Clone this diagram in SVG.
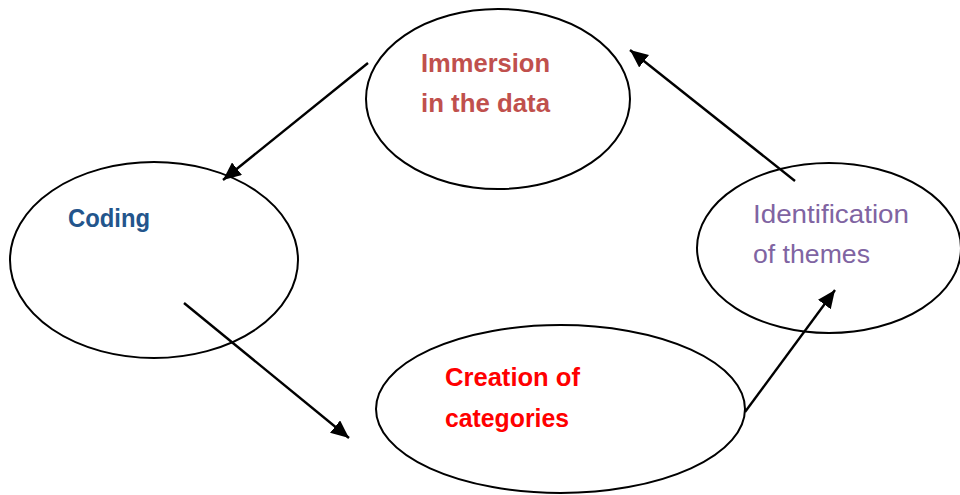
<svg xmlns="http://www.w3.org/2000/svg" width="960" height="495" viewBox="0 0 960 495">
<style>
.node ellipse{fill:#fff;stroke:#000;stroke-width:2}
.lbl{font-family:"Liberation Sans",Arial,sans-serif;font-size:25px}
.b{font-weight:bold}
.conn line{stroke:#000;stroke-width:2.4;marker-end:url(#ah)}
</style>
<defs>
<marker id="ah" viewBox="0 0 18 16" refX="18" refY="8" markerWidth="18" markerHeight="16" markerUnits="userSpaceOnUse" orient="auto">
<path d="M0,0 L18,8 L0,16 Z" fill="#000"/>
</marker>
</defs>
<rect width="960" height="495" fill="#fff"/>
<g id="immersion" class="node">
<ellipse cx="498" cy="99" rx="132" ry="90"/>
<text class="lbl b" fill="#C0504D" x="421" y="72" textLength="129" lengthAdjust="spacingAndGlyphs">Immersion</text>
<text class="lbl b" fill="#C0504D" x="421" y="112" textLength="129" lengthAdjust="spacingAndGlyphs">in the data</text>
</g>
<g id="coding" class="node">
<ellipse cx="154" cy="260" rx="144" ry="98"/>
<text class="lbl b" fill="#23558C" x="68" y="227" textLength="82" lengthAdjust="spacingAndGlyphs">Coding</text>
</g>
<g id="creation" class="node">
<ellipse cx="560.5" cy="409" rx="184.5" ry="84"/>
<text class="lbl b" fill="#FF0000" x="445" y="386" textLength="135" lengthAdjust="spacingAndGlyphs">Creation of</text>
<text class="lbl b" fill="#FF0000" x="445" y="427" textLength="124" lengthAdjust="spacingAndGlyphs">categories</text>
</g>
<g id="identification" class="node">
<ellipse cx="829" cy="248" rx="132" ry="85"/>
<text class="lbl" fill="#8064A2" x="753" y="223" textLength="156" lengthAdjust="spacingAndGlyphs">Identification</text>
<text class="lbl" fill="#8064A2" x="753" y="263" textLength="117" lengthAdjust="spacingAndGlyphs">of themes</text>
</g>
<g id="connectors" class="conn">
<line x1="368" y1="63" x2="223" y2="180"/>
<line x1="184" y1="303" x2="349" y2="438"/>
<line x1="745" y1="412" x2="835" y2="290"/>
<line x1="795" y1="181" x2="630" y2="50"/>
</g>
</svg>
